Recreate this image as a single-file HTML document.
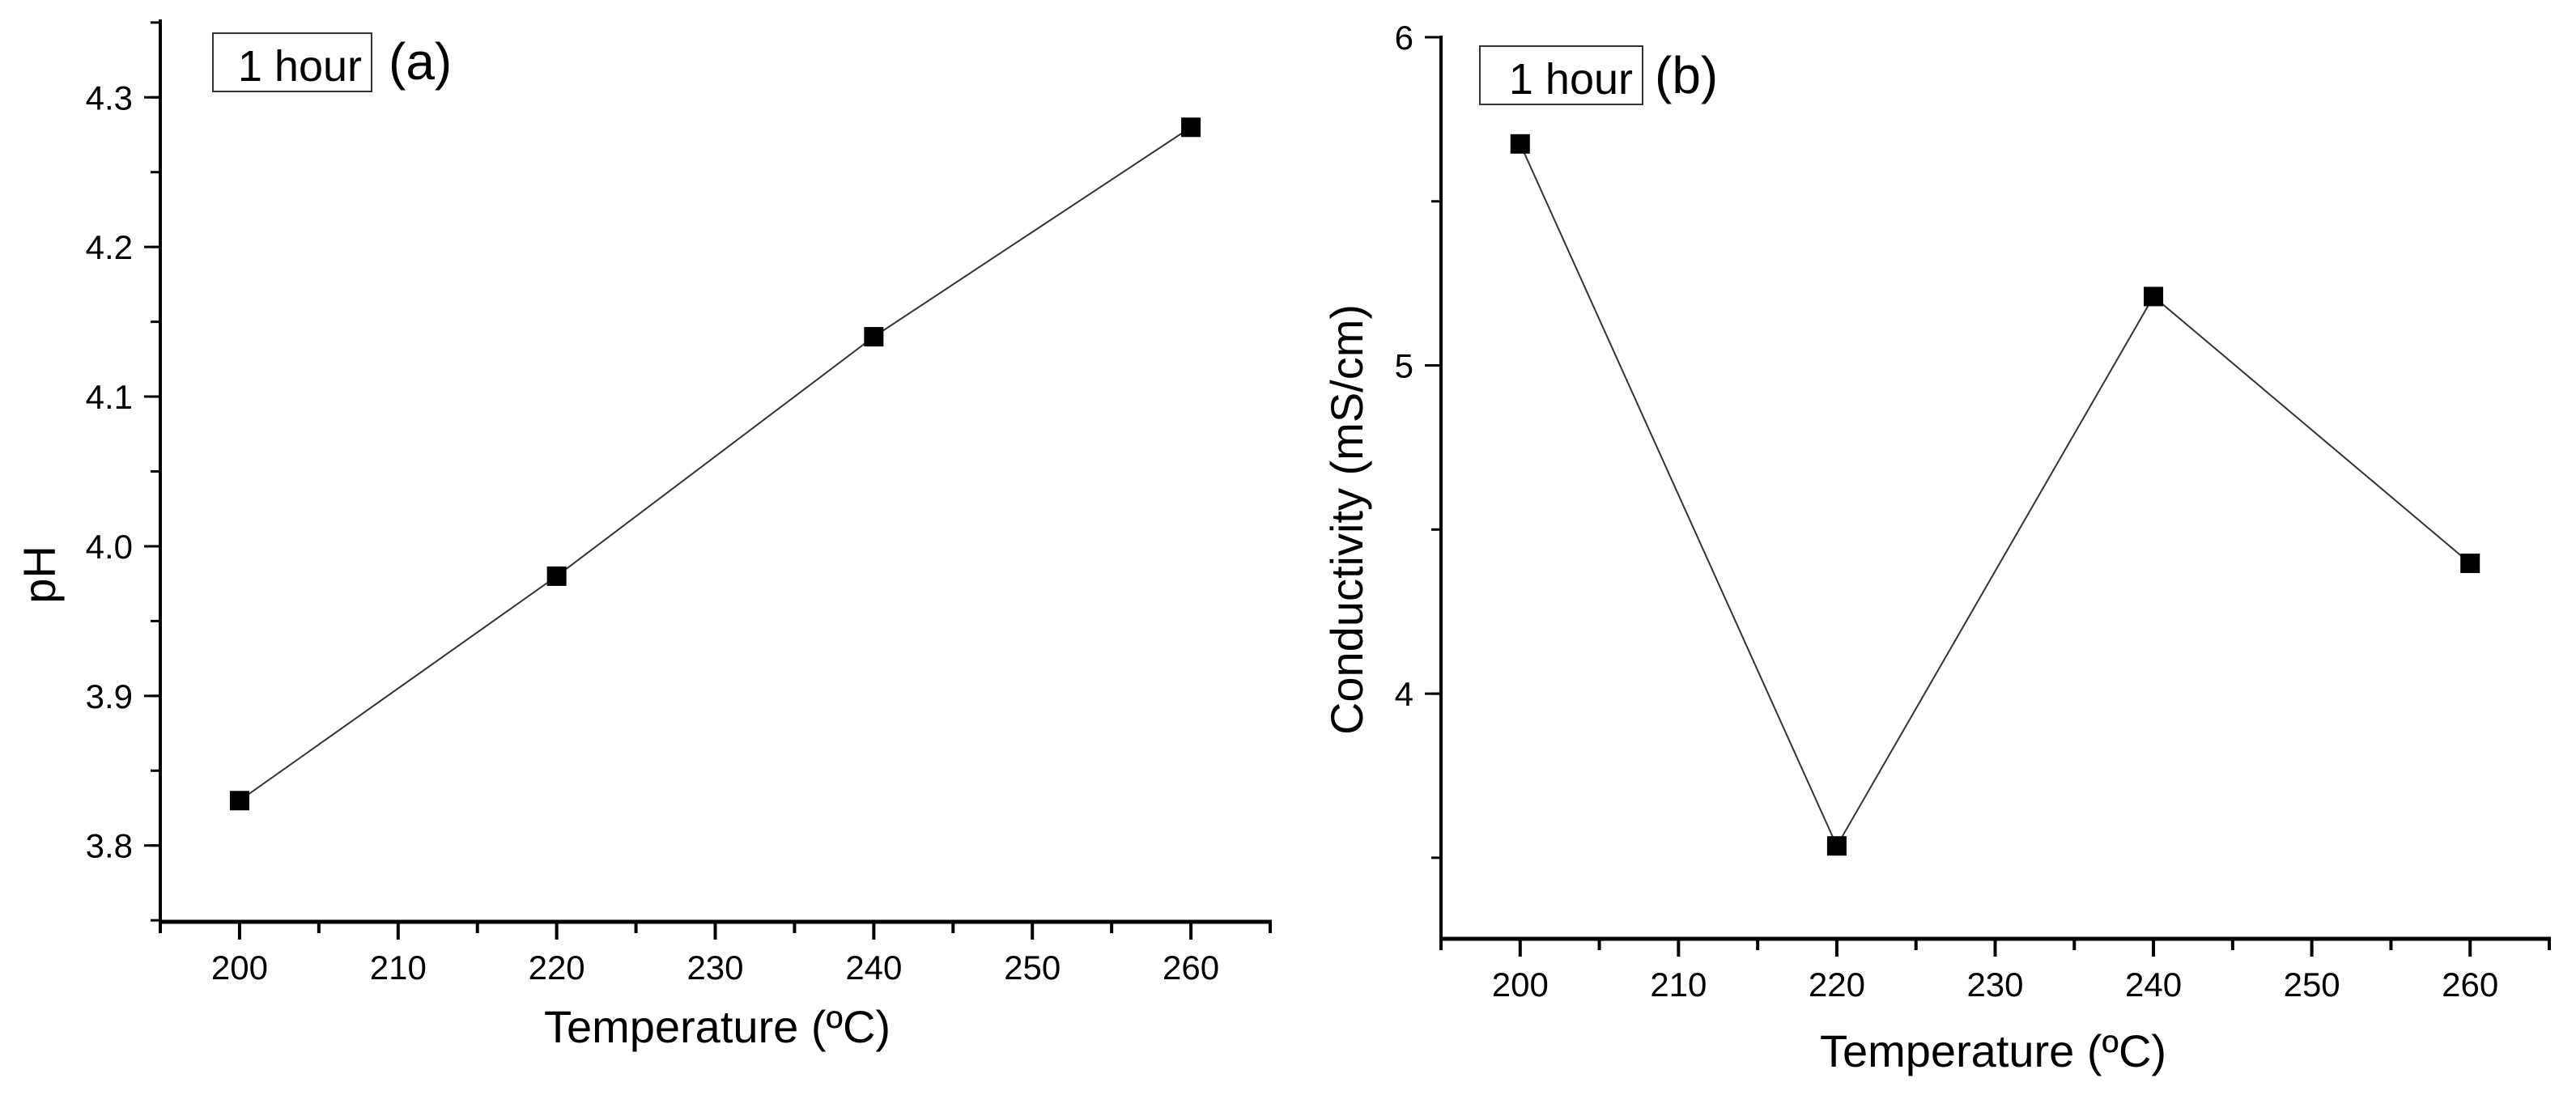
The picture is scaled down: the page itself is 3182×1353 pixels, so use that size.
<!DOCTYPE html>
<html><head><meta charset="utf-8"><style>
html,body{margin:0;padding:0;background:#fff;}
svg{display:block;font-family:"Liberation Sans",Arial,sans-serif;}
</style></head><body>
<svg id="fig" width="3182" height="1353" viewBox="0 0 3182 1353"></svg>
<script>
const categories = [200, 220, 240, 260];
const phValues = [3.83, 3.98, 4.14, 4.28];
const condValues = [5.675, 3.536, 5.21, 4.397];
const xTickLabels = [200, 210, 220, 230, 240, 250, 260];
const phTickLabels = ["3.8", "3.9", "4.0", "4.1", "4.2", "4.3"];
const condTickLabels = ["4", "5", "6"];

const NS = "http://www.w3.org/2000/svg";
const svg = document.getElementById("fig");
function mk(tag, attrs, parent, text) {
  const e = document.createElementNS(NS, tag);
  for (const k in attrs) e.setAttribute(k, attrs[k]);
  if (text !== undefined) e.textContent = text;
  (parent || svg).appendChild(e);
  return e;
}

function drawChart(cfg) {
  const g = mk("g", {});
  
  
  const X = v => cfg.px0 + (v - cfg.x0) / (cfg.x1 - cfg.x0) * (cfg.px1 - cfg.px0);
  const Y = v => cfg.py0 + (v - cfg.y0) / (cfg.y1 - cfg.y0) * (cfg.py1 - cfg.py0);
  const ax = mk("line", {x1: cfg.px0, y1: cfg.py1 - 2, x2: cfg.px0, y2: cfg.py0 + 2, stroke: "#000", "stroke-width": 4}, g);
  
  
  const bx = mk("line", {x1: cfg.px0 - 2, y1: cfg.py0, x2: cfg.px1 + 2, y2: cfg.py0, stroke: "#000", "stroke-width": 5}, g);
  
  
  for (let v = cfg.x0; v <= cfg.x1 + 0.001; v += 5) {
    mk("line", {x1: X(v), y1: cfg.py0, x2: X(v), y2: cfg.py0 + (v % 10 === 0 ? 22 : 14), stroke: "#000", "stroke-width": 4}, g);
  }
  xTickLabels.forEach(v => {
    const t = mk("text", {x: X(v), y: cfg.py0 + 71, "font-size": 42, "text-anchor": "middle"}, g, String(v));
    
    
  });
  for (let v = cfg.yMinorStart; v <= cfg.y1 + 1e-9; v += cfg.yMinor) {
    mk("line", {x1: cfg.px0, y1: Y(v), x2: cfg.px0 - 12, y2: Y(v), stroke: "#000", "stroke-width": 3}, g);
  }
  cfg.yTicks.forEach(s => {
    const v = parseFloat(s);
    mk("line", {x1: cfg.px0, y1: Y(v), x2: cfg.px0 - 20, y2: Y(v), stroke: "#000", "stroke-width": 3}, g);
    const t = mk("text", {x: cfg.px0 - 34, y: Y(v) + 15, "font-size": 42, "text-anchor": "end"}, g, s);
    
    
  });
  const pts = categories.map((c, i) => X(c) + "," + Y(cfg.values[i])).join(" ");
  const pl = mk("polyline", {points: pts, fill: "none", stroke: "#333", "stroke-width": 2}, g);
  
  
  categories.forEach((c, i) => {
    const r = mk("rect", {x: X(c) - 12, y: Y(cfg.values[i]) - 12, width: 24, height: 24, fill: "#000"}, g);
    
    
  });
  const xt = mk("text", {x: cfg.xtX, y: cfg.xtY, "font-size": 56, "text-anchor": "middle"}, g, "Temperature (ºC)");
  
  
  const yt = mk("text", {x: 0, y: 0, "font-size": 56, "text-anchor": "middle", transform: `translate(${cfg.ytX},${cfg.ytY}) rotate(-90)`}, g, cfg.yTitle);
  
  
  const bxr = mk("rect", {x: cfg.box[0], y: cfg.box[1], width: cfg.box[2], height: cfg.box[3], fill: "#fff", stroke: "#333", "stroke-width": 2}, g);
  
  
  const bt = mk("text", {x: cfg.box[0] + cfg.box[2] - 12, y: cfg.box[1] + cfg.box[3] - 13, "font-size": 54, "text-anchor": "end"}, g, "1 hour");
  
  
  const pt = mk("text", {x: cfg.panel[0], y: cfg.panel[1], "font-size": 64}, g, cfg.panelText);
  
  
}

drawChart({name: "ph-chart", values: phValues, x0: 195, x1: 265, px0: 198, px1: 1569,
  y0: 3.749, y1: 4.351, py0: 1139, py1: 26, yTicks: phTickLabels, yMinor: 0.05, yMinorStart: 3.75,
  xtX: 886, xtY: 1288, ytX: 68, ytY: 710, yTitle: "pH",
  box: [263, 41, 196, 72], panel: [480, 98], panelText: "(a)"});

drawChart({name: "conductivity-chart", values: condValues, x0: 195, x1: 265, px0: 1780, px1: 3149,
  y0: 3.253, y1: 6, py0: 1160, py1: 46, yTicks: condTickLabels, yMinor: 0.5, yMinorStart: 3.5,
  xtX: 2462, xtY: 1318, ytX: 1683, ytY: 642, yTitle: "Conductivity (mS/cm)",
  box: [1828, 57, 201, 72], panel: [2044, 115], panelText: "(b)"});
</script>
</body></html>
